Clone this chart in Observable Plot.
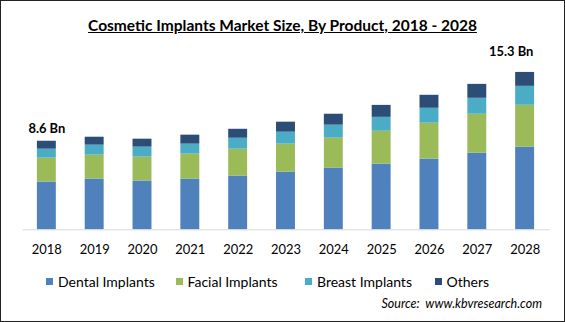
<!DOCTYPE html>
<html>
<head>
<meta charset="utf-8">
<script src="https://cdn.jsdelivr.net/npm/d3@7"></script>
<script src="https://cdn.jsdelivr.net/npm/@observablehq/plot@0.6"></script>
<style>
  html, body { margin: 0; padding: 0; background: #fff; }
  #wrap { position: relative; width: 565px; height: 322px; box-sizing: border-box; border: 1px solid #222; overflow: hidden; font-family: Lato, "Open Sans", sans-serif; color: #000; }
  #title { height: 39px; text-align: center; font-weight: bold; font-size: 15.5px; text-decoration: underline; line-height: 1; padding-top: 17px; box-sizing: border-box; }
  #chart svg { display: block; }
  #legend { display: flex; padding-left: 45px; height: 22px; align-items: center; font-size: 14px; margin-top: 9px; }
  #legend .item { width: 143px; display: flex; align-items: center; }
  #legend .sw { width: 7px; height: 7px; margin-right: 5px; }
  #source { text-align: right; padding-right: 22px; font-style: italic; font-size: 12.5px; margin-top: 4px; }
</style>
</head>
<body>
<div id="wrap">
  <div id="title">Cosmetic Implants Market Size, By Product, 2018 - 2028</div>
  <div id="chart"></div>
  <div id="legend"></div>
  <div id="source">Source:&nbsp; www.kbvresearch.com</div>
</div>
<script>
const years = ["2018","2019","2020","2021","2022","2023","2024","2025","2026","2027","2028"];
const segments = ["Dental Implants","Facial Implants","Breast Implants","Others"];
const colors = ["#4f81bd","#9bbb59","#4bacc6","#2c4d75"];
const dental = [4.64,4.93,4.74,4.93,5.22,5.61,6.00,6.38,6.87,7.45,8.03];
const facial = [2.32,2.32,2.32,2.42,2.61,2.71,2.90,3.19,3.48,3.77,4.06];
const breast = [0.87,0.97,0.97,0.97,1.06,1.16,1.26,1.35,1.45,1.55,1.84];
const others = [0.77,0.77,0.77,0.87,0.87,0.97,1.06,1.16,1.26,1.35,1.35];
const firstLabel = {year: "2018", total: 8.6, text: "8.6 Bn"};
const lastLabel = {year: "2028", total: 15.3, text: "15.3 Bn"};

const series = [dental, facial, breast, others];
const rows = [];
years.forEach((y, i) => {
  segments.forEach((s, j) => rows.push({year: y, segment: s, value: series[j][i]}));
});

const chart = Plot.plot({
  width: 565,
  height: 222,
  marginLeft: 21.5,
  marginRight: 14.5,
  marginTop: 24.6,
  marginBottom: 32,
  style: {fontFamily: "Lato, 'Open Sans', sans-serif", fontSize: "13px", color: "#000", background: "#fff"},
  x: {domain: years, paddingInner: 0.6, paddingOuter: 0.3, label: null, tickSize: 0, tickPadding: 15},
  y: {domain: [0, 16], axis: null},
  color: {domain: segments, range: colors},
  marks: [
    Plot.barY(rows, {x: "year", y: "value", fill: "segment"}),
    Plot.ruleY([0], {stroke: "#d9d9d9", strokeWidth: 1}),
    Plot.text([firstLabel], {x: "year", y: "total", text: "text", dy: -12, fontWeight: "bold", fontSize: 13, fill: "#000"}),
    Plot.text([lastLabel], {x: "year", y: "total", text: "text", dy: -20, dx: -14, fontWeight: "bold", fontSize: 13, fill: "#000"})
  ]
});
document.getElementById("chart").appendChild(chart);

const legend = document.getElementById("legend");
segments.forEach((s, j) => {
  const it = document.createElement("div");
  it.className = "item";
  const sw = document.createElement("span");
  sw.className = "sw";
  sw.style.background = colors[j];
  const tx = document.createElement("span");
  tx.textContent = s;
  it.appendChild(sw);
  it.appendChild(tx);
  legend.appendChild(it);
});
</script>
</body>
</html>
